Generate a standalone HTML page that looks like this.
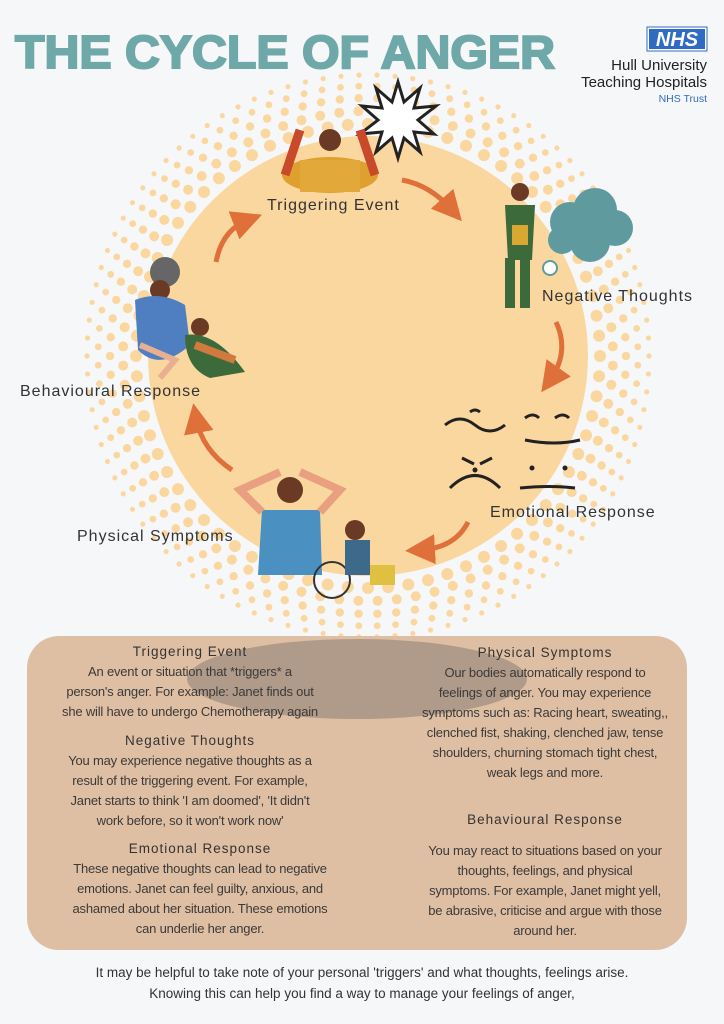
<!DOCTYPE html>
<html><head><meta charset="utf-8"><style>
html,body{margin:0;padding:0;background:#f6f7f9;}
body{width:724px;height:1024px;position:relative;overflow:hidden;font-family:"Liberation Sans",sans-serif;}
.lbl{position:absolute;font-size:16px;color:#333;letter-spacing:1px;white-space:nowrap;}
.box{position:absolute;left:27px;top:636px;width:660px;height:314px;background:#dfbfa3;border-radius:32px;overflow:hidden;}
.t{position:absolute;text-align:center;font-family:"Liberation Sans Narrow","Liberation Sans",sans-serif;font-size:13px;line-height:20px;color:#3a3a3a;white-space:nowrap;letter-spacing:-0.2px;}
.h{font-family:"Liberation Sans",sans-serif;font-size:13.5px;letter-spacing:1px;color:#333;}
.foot{position:absolute;left:0;width:724px;text-align:center;font-size:13.5px;color:#333;line-height:21px;top:962px;}
</style></head><body>
<svg width="724" height="640" style="position:absolute;left:0;top:0">
<text x="15" y="68" font-family="Liberation Sans" font-weight="bold" font-size="46" fill="#6fa8a8" textLength="540" lengthAdjust="spacingAndGlyphs" stroke="#6fa8a8" stroke-width="2">THE CYCLE OF ANGER</text>
<rect x="647" y="27" width="60" height="24" fill="#fff" stroke="#2f6cc1" stroke-width="1"/>
<rect x="649" y="29" width="56" height="20" fill="#2f6cc1"/>
<text x="677" y="46" text-anchor="middle" font-family="Liberation Sans" font-weight="bold" font-style="italic" font-size="20" fill="#fff">NHS</text>
<text x="707" y="70" text-anchor="end" font-family="Liberation Sans" font-size="15" fill="#222">Hull University</text>
<text x="707" y="87" text-anchor="end" font-family="Liberation Sans" font-size="15" fill="#222">Teaching Hospitals</text>
<text x="707" y="102" text-anchor="end" font-family="Liberation Sans" font-size="10.5" fill="#2f6cc1">NHS Trust</text>
<g id="dots"></g>
<circle cx="368" cy="356" r="220" fill="#fbd7a0"/>
<g transform="translate(398,120)">
<polygon points="0,-38 6,-18 22,-32 16,-12 38,-14 20,0 36,14 16,12 22,32 6,18 0,38 -6,18 -22,32 -16,12 -38,14 -20,0 -36,-14 -16,-12 -22,-32 -6,-18" fill="#fff" stroke="#222" stroke-width="3"/>
</g>
<ellipse cx="330" cy="175" rx="48" ry="18" fill="#e0a030"/>
<rect x="300" y="160" width="60" height="32" fill="#e2a83a"/>
<circle cx="330" cy="140" r="11" fill="#6b3a25"/>
<path d="M285 175 L300 130 M375 175 L360 130" stroke="#c94a2a" stroke-width="9"/>
<circle cx="520" cy="192" r="9" fill="#6b3a25"/>
<path d="M505 205 L535 205 L532 260 L508 260 Z" fill="#3d6a3a"/>
<rect x="505" y="258" width="10" height="50" fill="#3d6a3a"/><rect x="520" y="258" width="10" height="50" fill="#3d6a3a"/>
<rect x="512" y="225" width="16" height="20" fill="#d9a830"/>
<g fill="#5f9a9f"><circle cx="570" cy="222" r="20"/><circle cx="595" cy="210" r="22"/><circle cx="615" cy="228" r="18"/><circle cx="590" cy="242" r="20"/><circle cx="562" cy="240" r="14"/></g>
<circle cx="550" cy="268" r="7" fill="#fff" stroke="#5f9a9f" stroke-width="2"/>
<g stroke="#222" stroke-width="3" fill="none">
<path d="M445 425 q15 -12 30 0 q15 12 30 0"/><path d="M470 412 q5 -4 10 0"/>
<path d="M525 418 q8 -6 14 0"/><path d="M555 418 q8 -6 14 0"/><path d="M525 440 q30 6 55 0"/>
<path d="M462 458 l12 6 M492 458 l-12 6"/><path d="M450 488 q25 -25 50 0"/>
<path d="M520 488 q30 -3 55 0"/>
</g>
<g fill="#222"><circle cx="532" cy="468" r="2.5"/><circle cx="565" cy="468" r="2.5"/><circle cx="475" cy="470" r="2.5"/></g>
<circle cx="290" cy="490" r="13" fill="#6b3a25"/>
<path d="M262 510 L320 510 L322 575 L258 575 Z" fill="#4a90c0"/>
<path d="M262 512 L240 490 L280 472 M320 512 L340 490 L300 472" stroke="#e8a080" stroke-width="8" fill="none"/>
<circle cx="332" cy="580" r="18" fill="none" stroke="#333" stroke-width="2"/>
<circle cx="355" cy="530" r="10" fill="#6b3a25"/>
<rect x="345" y="540" width="25" height="35" fill="#3d6a8a"/>
<rect x="370" y="565" width="25" height="20" fill="#e0c040"/>
<circle cx="165" cy="272" r="15" fill="#666"/>
<circle cx="160" cy="290" r="10" fill="#6b3a25"/>
<path d="M135 300 Q160 290 185 305 L190 345 Q160 372 138 350 Z" fill="#4f7fc0"/>
<path d="M140 345 L175 360 L160 378" stroke="#e8b090" stroke-width="6" fill="none"/>
<circle cx="200" cy="327" r="9" fill="#6b3a25"/>
<path d="M185 335 Q215 330 245 372 L210 378 Q185 368 185 335 Z" fill="#3d6a3a"/>
<path d="M195 345 L235 360" stroke="#d07a40" stroke-width="8"/>
<defs><marker id="ah" markerWidth="6" markerHeight="6" refX="3" refY="3" orient="auto" markerUnits="strokeWidth"><path d="M0,0 L6,3 L0,6 Z" fill="#e0703a"/></marker></defs>
<g stroke="#e0703a" stroke-width="5" fill="none" marker-end="url(#ah)">
<path d="M402 180 Q430 185 452 210"/>
<path d="M556 322 Q570 352 550 380"/>
<path d="M468 522 Q455 548 420 550"/>
<path d="M232 470 Q202 450 196 418"/>
<path d="M216 262 Q222 230 248 220"/>
</g>
</svg>
<div class="lbl" style="left:267px;top:197px">Triggering Event</div>
<div class="lbl" style="left:542px;top:288px">Negative Thoughts</div>
<div class="lbl" style="left:490px;top:504px">Emotional Response</div>
<div class="lbl" style="left:77px;top:528px">Physical Symptoms</div>
<div class="lbl" style="left:20px;top:383px">Behavioural Response</div>
<div class="box">
<div style="position:absolute;left:160px;top:3px;width:340px;height:80px;border-radius:50%;background:#b09a89;"></div>
<div class="t" style="left:13px;width:300px;top:6px"><div class="h">Triggering Event</div>An event or situation that *triggers* a<br>person's anger. For example: Janet finds out<br>she will have to undergo Chemotherapy again</div>
<div class="t" style="left:13px;width:300px;top:95px"><div class="h">Negative Thoughts</div>You may experience negative thoughts as a<br>result of the triggering event. For example,<br>Janet starts to think 'I am doomed', 'It didn't<br>work before, so it won't work now'</div>
<div class="t" style="left:13px;width:320px;top:203px"><div class="h">Emotional Response</div>These negative thoughts can lead to negative<br>emotions. Janet can feel guilty, anxious, and<br>ashamed about her situation. These emotions<br>can underlie her anger.</div>
<div class="t" style="left:368px;width:300px;top:7px"><div class="h">Physical Symptoms</div>Our bodies automatically respond to<br>feelings of anger. You may experience<br>symptoms such as: Racing heart, sweating,,<br>clenched fist, shaking, clenched jaw, tense<br>shoulders, churning stomach tight chest,<br>weak legs and more.</div>
<div class="t" style="left:368px;width:300px;top:174px"><div class="h">Behavioural Response</div></div>
<div class="t" style="left:368px;width:300px;top:205px">You may react to situations based on your<br>thoughts, feelings, and physical<br>symptoms. For example, Janet might yell,<br>be abrasive, criticise and argue with those<br>around her.</div>
</div>
<div class="foot">It may be helpful to take note of your personal 'triggers' and what thoughts, feelings arise.<br>Knowing this can help you find a way to manage your feelings of anger,</div>
<script>
var g=document.getElementById('dots'),s='';
var rings=[[232,6,72],[245,5,80],[258,4.2,86],[270,3.4,92],[281,2.6,98]];
rings.forEach(function(r,i){for(var k=0;k<r[2];k++){var a=(k+(i%2)*0.5)/r[2]*Math.PI*2;
var x=368+r[0]*Math.cos(a),y=356+r[0]*Math.sin(a);
s+='<circle cx="'+x.toFixed(1)+'" cy="'+y.toFixed(1)+'" r="'+r[1]+'" fill="#fbd7a0"/>';}});
g.innerHTML=s;
</script>
</body></html>
